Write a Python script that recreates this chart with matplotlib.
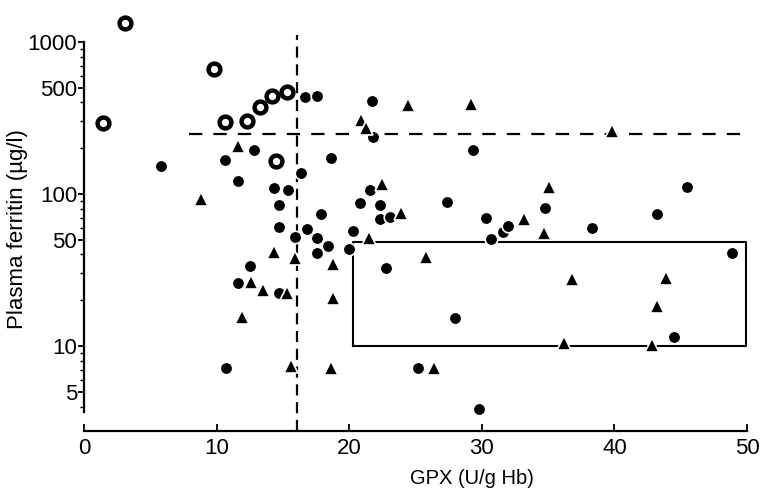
import numpy as np
import matplotlib
matplotlib.use("Agg")
import matplotlib.pyplot as plt
from matplotlib.ticker import FixedLocator, NullFormatter, LogLocator

plt.rcParams['font.family'] = ['Liberation Sans', 'DejaVu Sans']

# open circles (rings)
ring_x = [1.4, 3.1, 9.8, 10.6, 12.3, 13.3, 14.2, 15.3, 14.5]
ring_y = [292, 1340, 664, 299, 303, 372, 442, 467, 165]

# filled circles
dot_x = [16.7, 17.6, 21.7, 21.8, 29.3, 5.8, 12.8, 10.6, 11.6, 18.6, 16.4, 14.3,
         15.4, 14.7, 17.9, 14.7, 16.8, 15.9, 17.6, 18.4, 20.3, 20.8, 21.6, 22.3,
         22.3, 23.1, 27.4, 30.3, 30.7, 31.6, 32.0, 34.8, 38.3, 43.2, 45.5, 17.6,
         20.0, 22.8, 12.5, 11.6, 14.7, 10.7, 48.9, 28.0, 44.5, 25.2, 29.8]
dot_y = [437, 444, 411, 238, 195, 153, 195, 167, 122, 172, 137, 110,
         107, 84, 73.5, 61, 58.5, 52.4, 51, 45.5, 57.4, 87, 106, 85,
         68.5, 71, 89, 70, 50.4, 56.5, 61.5, 80.6, 59.4, 73.8, 111, 40.7,
         43.3, 32.4, 33.6, 25.9, 22.4, 7.2, 40.7, 15.4, 11.5, 7.2, 3.85]

# filled triangles
tri_x = [20.9, 21.3, 24.4, 29.2, 39.8, 11.6, 8.8, 22.5, 23.9, 33.2, 35.1, 34.7,
         21.5, 14.3, 15.9, 18.8, 12.6, 13.5, 15.3, 18.8, 11.9, 15.6, 18.6, 25.8,
         36.8, 43.9, 43.2, 36.2, 42.8, 26.4]
tri_y = [307, 270, 385, 391, 259, 208, 92, 116, 74.6, 68.5, 111, 55,
         51, 41.7, 37.7, 34.6, 26.5, 23.3, 22.2, 20.8, 15.6, 7.4, 7.2, 38.3,
         27.5, 28.1, 18.2, 10.4, 10.2, 7.2]

# reference lines and box
gpx_cut = 16.1
ferritin_cut = 247
box_x = [20.3, 49.9]
box_y = [10, 48]

fig = plt.figure(figsize=(7.62, 4.88), dpi=100)
ax = fig.add_axes([84 / 762, 57 / 488, 663 / 762, 431 / 488])
ax.set_yscale('log')
ax.set_xlim(0, 50)
ax.set_ylim(10 ** 0.441, 10 ** 3.276)

# dashed lines
ax.plot([gpx_cut, gpx_cut], [10 ** 0.441, 1112], color='black', lw=1.6,
        dashes=(5, 3), zorder=1)
ax.plot([7.9, 50], [ferritin_cut, ferritin_cut], color='black', lw=1.6,
        dashes=(6, 5), zorder=1)

# the box
ax.plot([box_x[0], box_x[1], box_x[1], box_x[0], box_x[0]],
        [box_y[0], box_y[0], box_y[1], box_y[1], box_y[0]],
        color='black', lw=1.5, zorder=1)

ax.plot(dot_x, dot_y, 'o', ms=9, mfc='black', mec='white', mew=1.2, zorder=3)
ax.plot(tri_x, tri_y, '^', ms=10, mfc='black', mec='white', mew=1.2, zorder=3)
ax.plot(ring_x, ring_y, 'o', ms=8.5, mfc='white', mec='black', mew=3.2, zorder=3)

for s in ['top', 'right']:
    ax.spines[s].set_visible(False)
ax.spines['left'].set_bounds(3.68, 1000)
ax.spines['left'].set_linewidth(1.6)
ax.spines['bottom'].set_linewidth(1.6)

ax.set_yticks([5, 10, 50, 100, 500, 1000])
ax.set_yticklabels(['5', '10', '50', '100', '500', '1000'])
ax.yaxis.set_minor_locator(FixedLocator(
    [v for v in LogLocator(subs=np.arange(2, 10)).tick_values(4, 1000) if 4 <= v <= 1000]))
ax.yaxis.set_minor_formatter(NullFormatter())
ax.tick_params(axis='y', which='major', direction='out', length=4, width=1.3,
               labelsize=16, pad=1)
ax.tick_params(axis='y', which='minor', direction='out', length=3, width=1)

ax.set_xticks([0, 10, 20, 30, 40, 50])
ax.tick_params(axis='x', direction='in', length=5, width=1.3, labelsize=16, pad=5)

ax.set_xlabel('GPX (U/g Hb)', fontsize=14.5)
ax.xaxis.set_label_coords((472 - 84) / 663, -0.088)
ax.set_ylabel('Plasma ferritin (µg/l)', fontsize=16)
ax.yaxis.set_label_coords(-0.0845, 0.469)

fig.savefig('out.png', dpi=100)
